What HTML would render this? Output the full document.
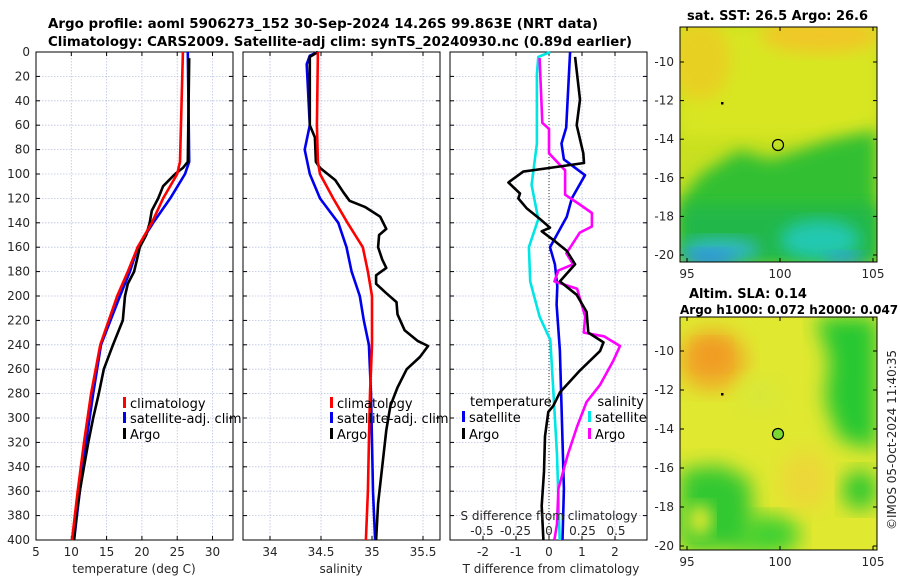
<!DOCTYPE html>
<html><head><meta charset="utf-8"><style>
html,body{margin:0;padding:0;background:#fff;}
svg{display:block;font-family:"DejaVu Sans","Liberation Sans",sans-serif;}
.tk{font-size:12px;fill:#262626;}
.tt{font-size:13px;font-weight:bold;fill:#000;}
.lg{font-size:13px;fill:#000;}
</style></head><body>
<svg id="chart" width="900" height="580" viewBox="0 0 900 580">
<defs>
<filter id="blur1" x="-20%" y="-20%" width="140%" height="140%"><feGaussianBlur stdDeviation="8"/></filter>
<filter id="blur2" x="-20%" y="-20%" width="140%" height="140%"><feGaussianBlur stdDeviation="10"/></filter>
<clipPath id="cm1"><rect x="680" y="27" width="197" height="235"/></clipPath>
<clipPath id="cm2"><rect x="680" y="317" width="197" height="233"/></clipPath>
</defs>
<text class="tt" x="48" y="28" textLength="550" lengthAdjust="spacingAndGlyphs">Argo profile: aoml 5906273_152 30-Sep-2024 14.26S 99.863E (NRT data)</text>
<text class="tt" x="48" y="46" textLength="584" lengthAdjust="spacingAndGlyphs">Climatology: CARS2009. Satellite-adj clim: synTS_20240930.nc (0.89d earlier)</text>

<g id="maps">
<g clip-path="url(#cm1)">
<rect x="680" y="27" width="197" height="235" fill="#c8e020"/>
<rect x="680" y="27" width="197" height="110" fill="#d8e620" filter="url(#blur1)"/>
<ellipse cx="820" cy="35" rx="60" ry="18" fill="#f0c828" filter="url(#blur1)"/>
<ellipse cx="700" cy="60" rx="30" ry="40" fill="#e8d020" filter="url(#blur1)"/>
<path d="M680 200 L700 175 L740 150 L770 160 L800 150 L830 140 L877 130 L877 262 L680 262 Z" fill="#30c030" filter="url(#blur1)"/>
<rect x="680" y="205" width="197" height="57" fill="#20b848" filter="url(#blur1)"/>
<ellipse cx="820" cy="240" rx="40" ry="20" fill="#20c8b0" filter="url(#blur1)"/>
<ellipse cx="720" cy="250" rx="40" ry="12" fill="#30b8c8" filter="url(#blur1)"/>
<ellipse cx="710" cy="258" rx="25" ry="8" fill="#3090e0" filter="url(#blur1)"/>
<ellipse cx="845" cy="258" rx="20" ry="6" fill="#30a0e0" filter="url(#blur1)"/>
</g>
<rect x="680" y="27" width="197" height="235" fill="none" stroke="#000" stroke-width="1"/>
<rect x="721" y="102" width="2.5" height="2.5" fill="#000"/>
<circle cx="778" cy="145" r="5.5" fill="none" stroke="#000" stroke-width="1.2"/>
<text class="tt" x="687" y="20" textLength="181" lengthAdjust="spacingAndGlyphs">sat. SST: 26.5 Argo: 26.6</text>

<g clip-path="url(#cm2)">
<rect x="680" y="317" width="197" height="233" fill="#e0e830"/>
<ellipse cx="712" cy="360" rx="34" ry="30" fill="#f0a828" filter="url(#blur2)"/>
<ellipse cx="712" cy="355" rx="16" ry="14" fill="#f09820" filter="url(#blur2)"/>
<path d="M815 317 L877 317 L877 450 L840 440 L825 400 L830 360 Z" fill="#28c830" filter="url(#blur2)"/>
<path d="M680 470 L720 465 L750 480 L755 550 L680 550 Z" fill="#30c830" filter="url(#blur2)"/>
<ellipse cx="700" cy="520" rx="12" ry="16" fill="#e0e830" filter="url(#blur1)"/>
<ellipse cx="770" cy="535" rx="30" ry="20" fill="#40d030" filter="url(#blur2)"/>
<ellipse cx="860" cy="490" rx="18" ry="20" fill="#30c830" filter="url(#blur2)"/>
<ellipse cx="805" cy="480" rx="25" ry="30" fill="#ecd838" filter="url(#blur2)"/>
<ellipse cx="760" cy="395" rx="22" ry="18" fill="#d8e838" filter="url(#blur2)"/>
</g>
<rect x="680" y="317" width="197" height="233" fill="none" stroke="#000" stroke-width="1"/>
<rect x="721" y="393" width="2.5" height="2.5" fill="#000"/>
<circle cx="778" cy="434" r="5.5" fill="#7ad830" stroke="#000" stroke-width="1.2"/>
<text class="tt" x="689" y="298">Altim. SLA: 0.14</text>
<text class="tt" x="680" y="314" style="font-size:12px">Argo h1000: 0.072 h2000: 0.047</text>
<text class="tk" transform="translate(896,440) rotate(-90)" text-anchor="middle">©IMOS 05-Oct-2024 11:40:35</text>
</g>
<g id="dyn"></g>
</svg>
<script>
// depth axis
const depthTicks = [0,20,40,60,80,100,120,140,160,180,200,220,240,260,280,300,320,340,360,380,400];
// panel 1: temperature
const tTicks = [5,10,15,20,25,30];
const tClimDepth = [0,90,100,120,140,160,180,200,240,280,320,360,400];
const tClim = [25.8,25.4,25.0,23.0,21.4,19.4,18.0,16.5,14.1,12.8,11.8,10.9,10.1];
const tSatDepth = [0,90,100,120,140,160,180,200,240,280,320,360,400];
const tSat = [26.5,26.7,26.1,24.0,21.6,19.4,18.3,16.9,14.2,13.1,12.1,11.2,10.4];
const tArgoDepth = [5,90,95,100,110,120,130,140,150,160,170,180,190,200,220,240,260,280,300,320,340,360,380,400];
const tArgo = [26.7,26.5,25.8,24.7,23.0,22.3,21.4,21.1,20.6,19.7,19.3,18.9,18.0,17.6,17.3,15.9,14.6,13.9,13.1,12.4,11.8,11.2,10.7,10.4];
// panel 2: salinity
const sTicks = [34,34.5,35,35.5];
const sClimDepth = [0,60,90,100,120,140,160,180,200,240,280,320,360,400];
const sClim = [34.47,34.46,34.47,34.49,34.62,34.76,34.91,34.96,35.00,35.00,34.98,34.97,34.96,34.94];
const sSatDepth = [0,3,10,60,80,100,120,140,160,180,200,220,240,280,320,360,400];
const sSat = [34.47,34.39,34.36,34.39,34.34,34.39,34.49,34.67,34.75,34.80,34.88,34.92,34.97,34.99,35.00,35.01,35.03];
const sArgoDepth = [0,4,60,70,90,95,105,115,122,127,135,145,150,160,170,177,183,190,197,205,215,228,237,241,250,260,275,290,310,340,370,400];
const sArgo = [34.47,34.39,34.39,34.44,34.45,34.49,34.64,34.72,34.78,34.93,35.08,35.14,35.07,35.06,35.10,35.14,35.04,35.04,35.13,35.24,35.25,35.32,35.45,35.55,35.47,35.34,35.25,35.18,35.14,35.10,35.06,35.04];
// panel 3: differences
const dtTicks = [-2,-1,0,1,2];
const dtTickLabels = ['-2','-1','0','1','2'];
const dsTicks = [-0.5,-0.25,0,0.25,0.5];
const dsTickLabels = ['-0.5','-0.25','0','0.25','0.5'];
const dtSatDepth = [0,62,75,88,101,120,135,160,174,192,207,245,290,358,400];
const dtSat = [0.64,0.52,0.38,0.45,1.09,0.69,0.54,0.03,0.18,0.25,0.23,0.33,0.38,0.45,0.41];
const dtArgoDepth = [4,39,60,83,91,95,98,107,116,120,128,137,144,147,154,163,174,188,199,213,230,238,245,261,279,290,295,315,344,372,400];
const dtArgo = [0.79,0.94,0.84,1.04,1.06,0.03,-0.78,-1.23,-0.88,-0.93,-0.68,-0.27,0.03,-0.22,0.13,0.54,0.79,0.33,0.84,1.14,1.19,1.65,1.55,0.94,0.33,0.13,-0.02,-0.12,-0.15,-0.22,-0.17];
const dsSatDepth = [0,4,18,75,109,137,160,188,217,236,273,330,400];
const dsSat = [0.01,-0.08,-0.09,-0.09,-0.13,-0.08,-0.15,-0.14,-0.07,0.01,0.03,0.06,0.08];
const dsArgoDepth = [5,58,63,83,97,117,125,132,143,148,160,165,174,179,188,194,217,230,233,241,253,273,287,307,330,358,387,400];
const dsArgo = [-0.07,-0.05,0,0,0.12,0.12,0.23,0.32,0.32,0.23,0.16,0.13,0.18,0.07,0.04,0.21,0.27,0.26,0.41,0.53,0.48,0.38,0.28,0.21,0.14,0.07,0.06,0.04];
// map ticks
const mapXTicks = [95,100,105];
const mapYTicks = [-10,-12,-14,-16,-18,-20];

const NS = 'http://www.w3.org/2000/svg';
const root = document.getElementById('dyn');
const TOP = 52, BOT = 540;
const yD = d => TOP + d * (BOT - TOP) / 400;
function lin(d0,d1,r0,r1){ return v => r0 + (v-d0)*(r1-r0)/(d1-d0); }
const P1 = {x0:36,x1:233}, P2 = {x0:243,x1:440}, P3 = {x0:450,x1:647};
const xT = lin(5,32.9,P1.x0,P1.x1);
const xS = lin(34,34.5,270,321);
const xDT = lin(0,1,549,582);
const xDS = lin(0,0.5,549,616);
const mx = lin(95,105,687,873);
const my1 = lin(-10,-20,62,255);
const my2 = lin(-10,-20,351,546);

function mk(tag, attrs, parent){ const e=document.createElementNS(NS,tag); for(const k in attrs) e.setAttribute(k,attrs[k]); (parent||root).appendChild(e); return e; }
function txt(x,y,s,cls,anchor,parent){ const e=mk('text',{x:x,y:y,class:cls,'text-anchor':anchor||'start'},parent); e.textContent=s; return e; }

function panel(P, xs, ticks, labels, name){
  const g = mk('g',{});
  
  
  depthTicks.forEach(d=>{ if(d>0&&d<400) mk('line',{x1:P.x0,x2:P.x1,y1:yD(d),y2:yD(d),stroke:'#b8c4e0','stroke-width':0.8,'stroke-dasharray':'1.5,1.5'},g); });
  ticks.forEach((t,i)=>{ const x=xs(t); if(x>P.x0+1&&x<P.x1-1) mk('line',{x1:x,x2:x,y1:TOP,y2:BOT,stroke:'#b8c4e0','stroke-width':0.8,'stroke-dasharray':'1.5,1.5'},g);
    mk('line',{x1:x,x2:x,y1:BOT,y2:BOT-4,stroke:'#000'},g); mk('line',{x1:x,x2:x,y1:TOP,y2:TOP+4,stroke:'#000'},g);
    const lab = txt(x,556,labels[i],'tk','middle',g);
    
    
  });
  depthTicks.forEach(d=>{ mk('line',{x1:P.x0,x2:P.x0+4,y1:yD(d),y2:yD(d),stroke:'#000'},g); mk('line',{x1:P.x1,x2:P.x1-4,y1:yD(d),y2:yD(d),stroke:'#000'},g); });
  mk('rect',{x:P.x0,y:TOP,width:P.x1-P.x0,height:BOT-TOP,fill:'none',stroke:'#000','stroke-width':1},g);
  return g;
}
function series(xs, depths, vals, color, name, g){
  let d='';
  for(let i=0;i<vals.length;i++){ d += (i?'L':'M') + xs(vals[i]).toFixed(1) + ' ' + yD(depths[i]).toFixed(1); }
  const p = mk('path',{d:d,fill:'none',stroke:color,'stroke-width':2.6,'stroke-linejoin':'round'},g);
  
  
}
function legendItem(x,y,color,label,g,anchorEnd){
  mk('rect',{x:x,y:y-11,width:3,height:11,fill:color},g);
  const t = anchorEnd ? txt(x-3,y,label,'lg','end',g) : txt(x+7,y,label,'lg','start',g);
  
  
}

// depth labels
depthTicks.forEach(d=>{ const t=txt(30,yD(d)+4,String(d),'tk','end');
  
   });

// panel 1
const g1 = panel(P1, xT, tTicks, tTicks.map(String), 'temperature-panel');
series(xT, tSatDepth, tSat, '#0000ee', 'temperature-satellite-line', g1);
series(xT, tArgoDepth, tArgo, '#000', 'temperature-argo-line', g1);
series(xT, tClimDepth, tClim, '#ff0000', 'temperature-climatology-line', g1);
const a1 = txt(134,573,'temperature (deg C)','tk','middle',g1);


legendItem(123,408,'#ff0000','climatology',g1);
legendItem(123,423,'#0000ee','satellite-adj. clim',g1);
legendItem(123,439,'#000','Argo',g1);

// panel 2
const g2 = panel(P2, xS, sTicks, sTicks.map(String), 'salinity-panel');
series(xS, sSatDepth, sSat, '#0000ee', 'salinity-satellite-line', g2);
series(xS, sArgoDepth, sArgo, '#000', 'salinity-argo-line', g2);
series(xS, sClimDepth, sClim, '#ff0000', 'salinity-climatology-line', g2);
const a2 = txt(341,573,'salinity','tk','middle',g2);


legendItem(330,408,'#ff0000','climatology',g2);
legendItem(330,423,'#0000ee','satellite-adj. clim',g2);
legendItem(330,439,'#000','Argo',g2);

// panel 3
const g3 = panel(P3, xDT, dtTicks, dtTickLabels, 'difference-panel');
mk('line',{x1:xDT(0),x2:xDT(0),y1:TOP,y2:BOT,stroke:'#333','stroke-width':1,'stroke-dasharray':'1,2'},g3);
series(xDS, dsSatDepth, dsSat, '#00e5e5', 'salinity-diff-satellite-line', g3);
series(xDT, dtSatDepth, dtSat, '#0000ee', 'temperature-diff-satellite-line', g3);
series(xDS, dsArgoDepth, dsArgo, '#ff00ff', 'salinity-diff-argo-line', g3);
series(xDT, dtArgoDepth, dtArgo, '#000', 'temperature-diff-argo-line', g3);
const a3 = txt(551,573,'T difference from climatology','tk','middle',g3);


const a4 = txt(549,520,'S difference from climatology','tk','middle',g3);


dsTicks.forEach((t,i)=>{ const e=txt(xDS(t),535,dsTickLabels[i],'tk','middle',g3);
  
   });
const lt = txt(470,406,'temperature','lg','start',g3);


const ls = txt(644,406,'salinity','lg','end',g3);


legendItem(462,422,'#0000ee','satellite',g3);
legendItem(462,439,'#000','Argo',g3);
legendItem(588,422,'#00e5e5','satellite',g3);
legendItem(588,439,'#ff00ff','Argo',g3);

// map ticks
[[my1,27,262],[my2,317,550]].forEach((m,k)=>{
  mapYTicks.forEach(v=>{ const y=m[0](v);
    mk('line',{x1:680,x2:684,y1:y,y2:y,stroke:'#000'}); mk('line',{x1:877,x2:873,y1:y,y2:y,stroke:'#000'});
    const e=txt(674,y+4,String(v),'tk','end');
    
     });
  mapXTicks.forEach(v=>{ const x=mx(v);
    mk('line',{x1:x,x2:x,y1:m[2],y2:m[2]-4,stroke:'#000'}); mk('line',{x1:x,x2:x,y1:m[1],y2:m[1]+4,stroke:'#000'});
    const e=txt(x,m[2]+16,String(v),'tk','middle');
    
     });
});
</script>
</body></html>
